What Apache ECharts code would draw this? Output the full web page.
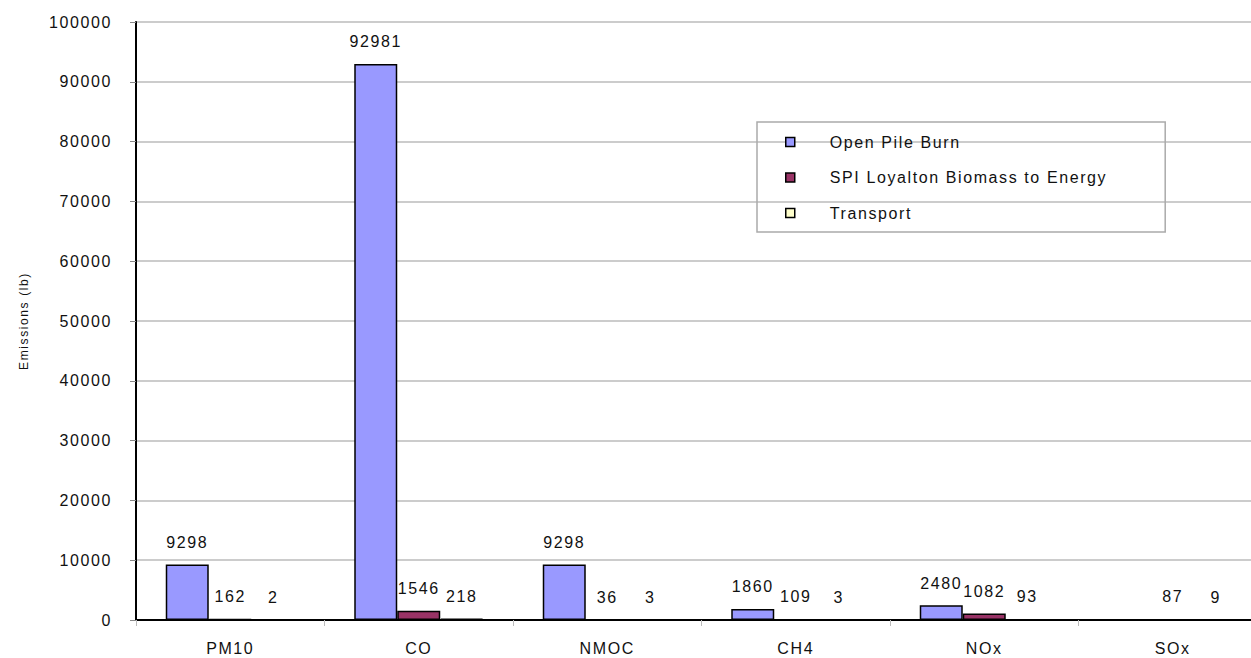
<!DOCTYPE html>
<html><head><meta charset="utf-8">
<script src="https://cdn.jsdelivr.net/npm/echarts@6/dist/echarts.min.js"></script>
<style>html,body{margin:0;padding:0;background:#fff;overflow:hidden}#c{width:1270px;height:658px}
#c svg text{letter-spacing:1.6px}</style>
</head><body><div id="c"></div>
<script>
const categories = ['PM10','CO','NMOC','CH4','NOx','SOx'];
const openPileBurn = [9298, 92981, 9298, 1860, 2480, null];
const spiLoyalton = [162, 1546, 36, 109, 1082, 87];
const transport = [2, 218, 3, 3, 93, 9];
const seriesNames = ['Open Pile Burn','SPI Loyalton Biomass to Energy','Transport'];
const colors = ['#9999ff','#993366','#ffffcc'];
const yTicks = {min:0, max:100000, interval:10000};

const chart = echarts.init(document.getElementById('c'), null, {renderer:'svg'});
const font = 'Liberation Sans, Arial, sans-serif';
function mk(name, data, color){
  return {name, type:'bar', data, barWidth:43, barGap:'0%',
    itemStyle:{color, borderColor:'#000', borderWidth:1.5},
    label:{show:true, position:'top', distance:14, color:'#111', fontFamily:font, fontSize:16}};
}
chart.setOption({
  animation:false,
  grid:{left:136, top:22, right:3, bottom:38},
  legend:{orient:'vertical', left:757, top:122,
    padding:[10,106,9,28], itemGap:15.5, itemWidth:9, itemHeight:9,
    borderColor:'#aaa', borderWidth:1.5,
    textStyle:{fontFamily:font, fontSize:16, color:'#111', lineHeight:20, padding:[0,0,0,30]},
    data:seriesNames.map((n,i)=>({name:n, icon:'rect', itemStyle:{borderColor:'#000', borderWidth:1.5}}))},
  xAxis:{type:'category', data:categories,
    axisLine:{lineStyle:{color:'#000', width:2}},
    axisTick:{show:true, length:6, lineStyle:{color:'#bbb'}},
    axisLabel:{color:'#111', fontFamily:font, fontSize:16, margin:20}},
  yAxis:{type:'value', min:yTicks.min, max:yTicks.max, interval:yTicks.interval,
    name:'Emissions (lb)', nameLocation:'middle', nameGap:106, nameRotate:90,
    nameTextStyle:{fontFamily:font, fontSize:12, color:'#111'},
    axisLine:{show:true, lineStyle:{color:'#000', width:2}},
    axisTick:{show:true, length:6, lineStyle:{color:'#888'}},
    axisLabel:{color:'#111', fontFamily:font, fontSize:16, margin:24, formatter:v=>String(v)},
    splitLine:{lineStyle:{color:'#bbb', width:1.5}}},
  series:[mk(seriesNames[0], openPileBurn, colors[0]), mk(seriesNames[1], spiLoyalton, colors[1]), mk(seriesNames[2], transport, colors[2])]
});
</script></body></html>
